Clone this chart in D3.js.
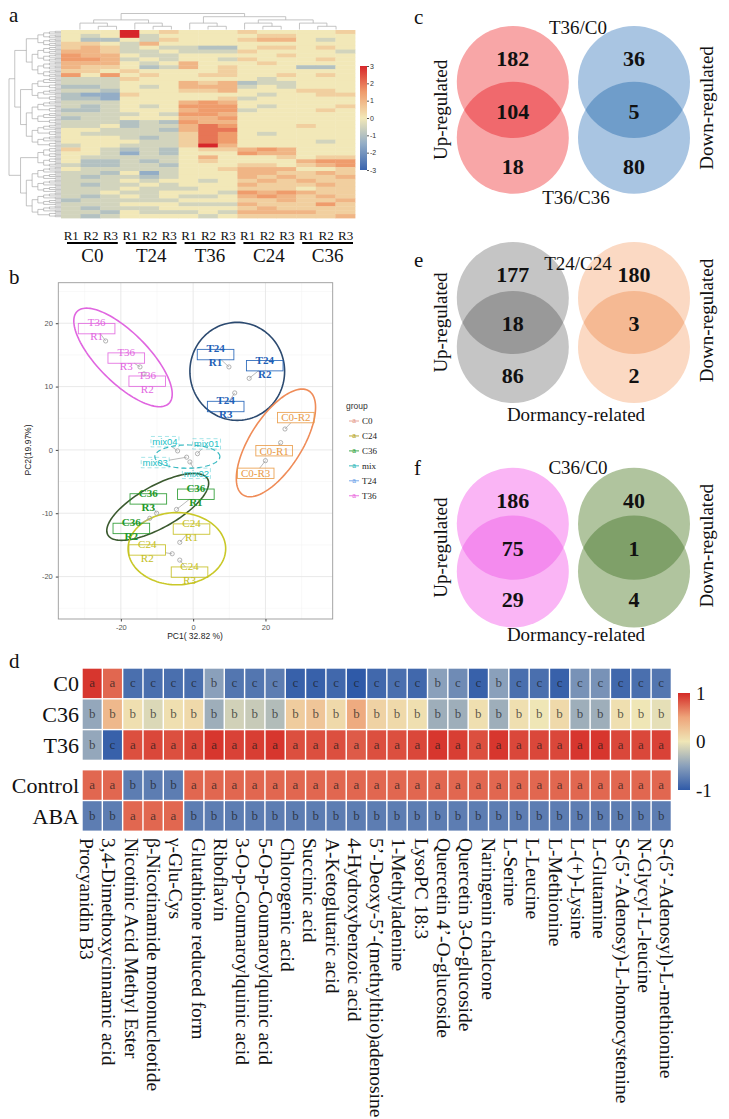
<!DOCTYPE html>
<html>
<head>
<meta charset="utf-8">
<script src="https://cdn.jsdelivr.net/npm/d3@7"></script>
<style>
  body { margin: 0; background: #fff; }
  svg { display: block; }
</style>
</head>
<body>
<svg id="fig" width="729" height="1119"></svg>
<script>
// ---------------- data ----------------

// panel a : clustered heatmap (row z-scores, coded 0..X)
var aGroups = ["C0", "T24", "T36", "C24", "C36"];
var aReps = ["R1", "R2", "R3"];
var aTicks = [3, 2, 1, 0, -1, -2, -3];
var aLevels = {"0": -3, "1": -2, "2": -1.5, "3": -1, "4": -0.5, "5": 0,
               "6": 0.5, "7": 1, "8": 1.5, "9": 2, "X": 3};
var aRows = [
  "555 X56 555 655 556", "545 X45 555 566 555", "533 546 555 677 545",
  "665 475 555 555 555", "676 454 433 566 565", "776 445 444 655 554",
  "877 544 555 556 555", "887 454 554 655 565", "777 545 755 565 555",
  "766 534 756 555 335", "665 655 556 555 555", "858 565 566 556 565",
  "444 655 555 545 555", "444 555 767 344 555", "334 545 777 454 555",
  "443 555 667 555 665", "322 655 555 545 566", "332 555 556 455 555",
  "444 555 787 555 555", "434 545 888 545 556", "334 555 788 455 565",
  "444 454 887 555 555", "344 555 778 555 555", "444 343 877 555 555",
  "445 344 798 555 655", "554 443 799 555 555", "544 444 698 545 555",
  "555 434 698 555 555", "555 544 698 555 545", "455 444 6X7 555 555",
  "654 343 566 787 555", "554 243 555 877 555", "544 444 575 556 566",
  "533 434 565 555 788", "433 443 555 665 678", "544 444 556 777 556",
  "443 524 555 776 676", "434 434 555 767 667", "444 545 545 676 766",
  "434 454 555 766 676", "444 544 455 666 566", "445 445 554 878 766",
  "434 545 445 787 676", "344 444 555 667 667", "444 555 444 766 686",
  "434 445 555 676 666", "443 544 454 777 766", "434 555 545 666 667"
];
var aColTree = [[[0, [1, 2]], [3, [4, 5]]], [[6, [7, 8]], [[9, [10, 11]], [12, [13, 14]]]]];
var aRowBlocks = [4, 8, 6, 12, 5, 13];

// panel b : PCA
var pcaGroups = ["C0", "C24", "C36", "mix", "T24", "T36"];
var samples = ["T36-R1", "T36-R2", "T36-R3", "T24-R1", "T24-R2", "T24-R3",
               "C0-R1", "C0-R2", "C0-R3", "mix01", "mix02", "mix03", "mix04",
               "C36-R1", "C36-R2", "C36-R3", "C24-R1", "C24-R2", "C24-R3"];
var sampleGroup = ["T36", "T36", "T36", "T24", "T24", "T24", "C0", "C0", "C0",
                   "mix", "mix", "mix", "mix", "C36", "C36", "C36", "C24", "C24", "C24"];
var pc1 = [-24.2, -13.6, -14.7, 9.9, 15.5, 11.5, 24.2, 25.4, 20.0,
           1.2, -0.9, -1.8, -4.3, -4.6, -12.0, -10.1, -3.7, -5.8, -3.7];
var pc2 = [17.2, 12.0, 13.1, 13.1, 11.3, 9.0, 1.15, 3.3, -1.7,
           -0.6, -1.9, -1.15, -0.16, -9.4, -10.8, -10.0, -14.6, -16.4, -17.4];
// repelled label centres (data units)
var labelPc1 = [-26.7, -12.7, -18.5, 6.2, 19.8, 9.0, 22.4, 28.4, 17.3,
                3.7, 0.9, -10.5, -7.8, 0.75, -17.1, -12.4, -0.45, -12.7, -1.0];
var labelPc2 = [19.15, 10.85, 14.5, 15.05, 13.3, 6.85, -0.13, 5.1, -3.7,
                0.95, -3.7, -2.0, 1.3, -7.0, -12.4, -7.74, -12.5, -15.8, -19.3];
// confidence ellipses: centre and two conjugate semi-axes (data units)
var ellGroup = ["T36", "T24", "C0", "mix", "C36", "C24"];
var ellCx = [-19.4, 12.2, 22.9, -1.6, -9.8, -4.5];
var ellCy = [14.6, 12.4, 1.1, -1.06, -9.0, -15.6];
var ellU = [[12.7, -7.26], [13.1, 0], [9.12, 8.21], [9.0, 0], [13.8, 4.42], [13.5, 0]];
var ellV = [[4.9, 2.8], [0, 7.74], [6.08, -2.21], [0, 1.84], [2.85, -2.89], [0, 5.7]];
var pcaXTicks = [-20, 0, 20];
var pcaYTicks = [-20, -10, 0, 10, 20];
var pcaXMinor = [-30, -10, 10, 30];
var pcaYMinor = [-25, -15, -5, 5, 15, 25];

// panels c, e, f : Venn diagrams
var vennLetters = ["c", "e", "f"];
var vennTitles = ["T36/C0", "T24/C24", "C36/C0"];
var vennBottom = ["T36/C36", "Dormancy-related", "Dormancy-related"];
var vennUp = [[182, 104, 18], [177, 18, 86], [186, 75, 29]];
var vennDown = [[36, 5, 80], [180, 3, 2], [40, 1, 4]];

// panel d : metabolite heatmap
var dRows = ["C0", "C36", "T36", "Control", "ABA"];
var dValues = [
  [0.95, 0.75, -0.85, -0.85, -0.85, -0.85, -0.5, -0.8, -0.8, -0.75, -0.95, -0.95, -0.9, -1.0, -0.9,
   -0.85, -0.9, -0.5, -0.65, -0.95, -0.5, -0.85, -0.85, -0.95, -0.6, -0.6, -0.9, -0.85, -0.8],
  [-0.45, 0.35, 0.05, -0.1, 0.05, 0.1, -0.4, -0.15, -0.2, -0.3, 0.2, 0.25, 0.1, 0.45, 0.15,
   0.1, 0.05, -0.4, -0.4, 0.05, -0.4, 0.05, 0, 0.1, -0.4, -0.4, 0.05, 0, -0.05],
  [-0.45, -0.95, 0.85, 0.88, 0.85, 0.88, 0.95, 0.9, 0.92, 0.95, 0.85, 0.85, 0.85, 0.8, 0.85,
   0.85, 0.88, 0.95, 0.92, 0.85, 0.95, 0.88, 0.88, 0.88, 0.95, 0.95, 0.88, 0.88, 0.9],
  [0.75, 0.75, -0.75, -0.75, -0.75, 0.75, 0.75, 0.75, 0.75, 0.75, 0.75, 0.75, 0.75, 0.75, 0.75,
   0.75, 0.75, 0.75, 0.75, 0.75, 0.75, 0.75, 0.75, 0.75, 0.75, 0.75, 0.75, 0.75, 0.75],
  [-0.75, -0.75, 0.75, 0.75, 0.75, -0.75, -0.75, -0.75, -0.75, -0.75, -0.75, -0.75, -0.75, -0.75, -0.75,
   -0.75, -0.75, -0.75, -0.75, -0.75, -0.75, -0.75, -0.75, -0.75, -0.75, -0.75, -0.75, -0.75, -0.75]
];
var dLetters = [
  "aaccccbccccccccccbccbcccccccc",
  "bbbbbbbbbbbbbbbbbbbbbbbbbbbbb",
  "bcaaaaaaaaaaaaaaaaaaaaaaaaaaa",
  "aabbbaaaaaaaaaaaaaaaaaaaaaaaa",
  "bbaaabbbbbbbbbbbbbbbbbbbbbbbb"
];
var dTicks = [1, 0, -1];
var dMetabolites = [
  "Procyanidin B3", "3,4-Dimethoxycinnamic acid", "Nicotinic Acid Methyl Ester",
  "\u03b2-Nicotinamide mononucleotide", "\u03b3-Glu-Cys", "Glutathione reduced form",
  "Riboflavin", "3-O-p-Coumaroylquinic acid", "5-O-p-Coumaroylquinic acid",
  "Chlorogenic acid", "Succinic acid", "A-Ketoglutaric acid", "4-Hydroxybenzoic acid",
  "5\u2019-Deoxy-5\u2019-(methylthio)adenosine", "1-Methyladenine", "LysoPC 18:3",
  "Quercetin 4\u2019-O-glucoside", "Quercetin 3-O-glucoside", "Naringenin chalcone",
  "L-Serine", "L-Leucine", "L-Methionine", "L-(+)-Lysine", "L-Glutamine",
  "S-(5\u2019-Adenosy)-L-homocystenine", "N-Glycyl-L-leucine", "S-(5\u2019-Adenosyl)-L-methionine"
];

// ---------------- styles ----------------
var SERIF = '"Liberation Serif","Times New Roman",serif';
var SANS = '"Liberation Sans",Arial,sans-serif';
var pcaText = {C0: "#e99a45", C24: "#c4be1c", C36: "#23982a", mix: "#22bfc6", T24: "#1e5fb6", T36: "#e266df"};
var pcaEll = {C0: "#ef8c58", C24: "#c9c828", C36: "#3b5a2f", mix: "#3ab9c1", T24: "#2c4a70", T36: "#e066e0"};
var pcaKey = {C0: "#e49a8c", C24: "#b4a224", C36: "#2f9f3c", mix: "#2cb6b8", T24: "#6c9fe8", T36: "#ea66de"};
var vennFill = [
  {l: "#f8a6a7", lo: "#f0696d", r: "#a9c5e2", ro: "#6f9dca"},
  {l: "#c5c5c5", lo: "#999999", r: "#fbd9c3", ro: "#f5b993"},
  {l: "#fab5f5", lo: "#f48bee", r: "#b0c49e", ro: "#7fa069"}
];
var subLeaves = 3;   // dendrogram leaves drawn per heatmap row

var svg = d3.select("#fig");
svg.append("rect").attr("width", 729).attr("height", 1119).attr("fill", "#fff");
var defs = svg.append("defs");

function letter(t, x, y) {
  svg.append("text").attr("x", x).attr("y", y).text(t)
    .style("font-family", SERIF).style("font-size", "21px").attr("fill", "#111");
}

// draw an elbow dendrogram from a d3.cluster result
function elbow(g, root, pos) {
  root.descendants().forEach(function(n) {
    if (!n.children) return;
    var xs = n.children.map(function(c) { return c.x; });
    var a = pos(d3.min(xs), n.y), b = pos(d3.max(xs), n.y);
    g.append("line").attr("x1", a[0]).attr("y1", a[1]).attr("x2", b[0]).attr("y2", b[1]);
    n.children.forEach(function(c) {
      var p = pos(c.x, n.y), q = pos(c.x, c.y);
      g.append("line").attr("x1", p[0]).attr("y1", p[1]).attr("x2", q[0]).attr("y2", q[1]);
    });
  });
}

// ================= panel a =================
letter("a", 9, 22);
var aMatrix = aRows.map(function(r) {
  return r.replace(/ /g, "").split("").map(function(c) { return aLevels[c]; });
});
var aCols = [];
aGroups.forEach(function(g) { aReps.forEach(function(r) { aCols.push(g + "_" + r); }); });
var ax = d3.scaleBand().domain(aCols).range([61, 355]);
var ay = d3.scaleBand().domain(d3.range(aMatrix.length)).range([30, 218]);
var aColor = d3.scaleLinear().domain([-3, -1.5, 0, 1.5, 3])
  .range(["#3a64ae", "#93adc6", "#f2e8b8", "#ef9c6c", "#d7262a"]);

var aHeat = svg.append("g");
aMatrix.forEach(function(row, i) {
  row.forEach(function(v, j) {
    aHeat.append("rect")
      .attr("x", ax(aCols[j])).attr("y", ay(i))
      .attr("width", ax.bandwidth() + 0.4).attr("height", ay.bandwidth() + 0.4)
      .attr("fill", aColor(v));
  });
});

// column dendrogram
var colRoot = d3.hierarchy(aColTree, function(d) { return Array.isArray(d) ? d : null; });
d3.cluster().size([ax.range()[1] - ax.range()[0] - ax.bandwidth(), 16])
  .separation(function() { return 1; })(colRoot);
var colG = svg.append("g").attr("stroke", "#b5b5b5").attr("stroke-width", 0.8);
elbow(colG, colRoot, function(x, y) { return [61 + ax.bandwidth() / 2 + x, 13.5 + y]; });

// row dendrogram
function halve(ids) {
  if (ids.length === 1) return ids[0];
  var m = Math.ceil(ids.length / 2);
  return [halve(ids.slice(0, m)), halve(ids.slice(m))];
}
var blocks = [], start = 0;
aRowBlocks.forEach(function(n) {
  blocks.push(halve(d3.range(start * subLeaves, (start + n) * subLeaves)));
  start += n;
});
var rowTree = [[[blocks[0], blocks[1]], [blocks[2], blocks[3]]], [blocks[4], blocks[5]]];
var rowRoot = d3.hierarchy(rowTree, function(d) { return Array.isArray(d) ? d : null; });
var leafH = ay.bandwidth() / subLeaves;
d3.cluster().size([ay.range()[1] - ay.range()[0] - leafH, 52])
  .separation(function() { return 1; })(rowRoot);
var rowG = svg.append("g").attr("stroke", "#9c9c9c").attr("stroke-width", 0.6);
elbow(rowG, rowRoot, function(x, y) { return [9 + y, 30 + leafH / 2 + x]; });

// colour key
var aGrad = defs.append("linearGradient").attr("id", "aGrad")
  .attr("x1", 0).attr("y1", 0).attr("x2", 0).attr("y2", 1);
d3.range(0, 1.0001, 0.125).forEach(function(t) {
  aGrad.append("stop").attr("offset", t).attr("stop-color", aColor(3 - 6 * t));
});
var aKeyY = d3.scaleLinear().domain([-3, 3]).range([170, 66]);
svg.append("rect").attr("x", 360).attr("y", 66).attr("width", 7).attr("height", 104)
  .attr("fill", "url(#aGrad)");
var aKeyAxis = svg.append("g").attr("transform", "translate(367,0)")
  .call(d3.axisRight(aKeyY).tickValues(aTicks).tickSize(2).tickFormat(function(d) { return String(d); }));
aKeyAxis.select(".domain").remove();
aKeyAxis.selectAll("text").style("font-family", SANS).style("font-size", "7px").attr("fill", "#333").attr("dx", "-2");
aKeyAxis.selectAll("line").attr("stroke", "#555");

// sample labels
aCols.forEach(function(c, j) {
  svg.append("text").attr("x", ax(c) + ax.bandwidth() / 2 + 0.5).attr("y", 240)
    .attr("text-anchor", "middle").text(aReps[j % 3])
    .style("font-family", SERIF).style("font-size", "13px").attr("fill", "#111");
});
aGroups.forEach(function(g, k) {
  var x0 = ax(g + "_R1") + 6, x1 = ax(g + "_R3") + ax.bandwidth() - 2;
  svg.append("line").attr("x1", x0).attr("x2", x1).attr("y1", 243).attr("y2", 243)
    .attr("stroke", "#000").attr("stroke-width", 1.8);
  svg.append("text").attr("x", (x0 + x1) / 2).attr("y", 262).attr("text-anchor", "middle")
    .text(g).style("font-family", SERIF).style("font-size", "19px").attr("fill", "#111");
});

// ================= panel b =================
letter("b", 9, 284);
var px = d3.scaleLinear().domain([-37.3, 38.6]).range([58.3, 332.7]);
var py = d3.scaleLinear().domain([-26.7, 26.4]).range([619, 282.7]);
var pg = svg.append("g");
pcaXMinor.forEach(function(v) {
  pg.append("line").attr("x1", px(v)).attr("x2", px(v)).attr("y1", py.range()[1]).attr("y2", py.range()[0])
    .attr("stroke", "#f3f3f3").attr("stroke-width", 0.5);
});
pcaYMinor.forEach(function(v) {
  pg.append("line").attr("y1", py(v)).attr("y2", py(v)).attr("x1", px.range()[0]).attr("x2", px.range()[1])
    .attr("stroke", "#f3f3f3").attr("stroke-width", 0.5);
});
pcaXTicks.forEach(function(v) {
  pg.append("line").attr("x1", px(v)).attr("x2", px(v)).attr("y1", py.range()[1]).attr("y2", py.range()[0])
    .attr("stroke", "#e6e6e6").attr("stroke-width", 0.9);
});
pcaYTicks.forEach(function(v) {
  pg.append("line").attr("y1", py(v)).attr("y2", py(v)).attr("x1", px.range()[0]).attr("x2", px.range()[1])
    .attr("stroke", "#e6e6e6").attr("stroke-width", 0.9);
});
pg.append("rect").attr("x", px.range()[0]).attr("y", py.range()[1])
  .attr("width", px.range()[1] - px.range()[0]).attr("height", py.range()[0] - py.range()[1])
  .attr("fill", "none").attr("stroke", "#9a9a9a").attr("stroke-width", 0.9);

var xAx = svg.append("g").attr("transform", "translate(0," + py.range()[0] + ")")
  .call(d3.axisBottom(px).tickValues(pcaXTicks).tickSize(2.5).tickFormat(function(d) { return String(d); }));
var yAx = svg.append("g").attr("transform", "translate(" + px.range()[0] + ",0)")
  .call(d3.axisLeft(py).tickValues(pcaYTicks).tickSize(2.5).tickFormat(function(d) { return String(d); }));
[xAx, yAx].forEach(function(a) {
  a.select(".domain").remove();
  a.selectAll("line").attr("stroke", "#444");
  a.selectAll("text").style("font-family", SANS).style("font-size", "7.5px").attr("fill", "#555");
});
svg.append("text").attr("x", 195).attr("y", 639).attr("text-anchor", "middle").text("PC1( 32.82 %)")
  .style("font-family", SANS).style("font-size", "8.5px").attr("fill", "#222");
svg.append("text").attr("transform", "translate(31,450) rotate(-90)").attr("text-anchor", "middle")
  .text("PC2(19.97%)").style("font-family", SANS).style("font-size", "8.5px").attr("fill", "#222");

// ellipses
var ellLine = d3.line().curve(d3.curveLinearClosed);
ellGroup.forEach(function(g, k) {
  var pts = d3.range(0, 2 * Math.PI, Math.PI / 60).map(function(t) {
    var c = Math.cos(t), s = Math.sin(t);
    return [px(ellCx[k] + ellU[k][0] * c + ellV[k][0] * s), py(ellCy[k] + ellU[k][1] * c + ellV[k][1] * s)];
  });
  svg.append("path").attr("d", ellLine(pts)).attr("fill", "none")
    .attr("stroke", pcaEll[g]).attr("stroke-width", g === "mix" ? 1.2 : 1.6)
    .attr("stroke-dasharray", g === "mix" ? "5,3" : null);
});

// labels, segments, points
samples.forEach(function(name, i) {
  var g = sampleGroup[i];
  var lx = px(labelPc1[i]), ly = py(labelPc2[i]);
  var sx = px(pc1[i]), sy = py(pc2[i]);
  var two = (g !== "mix" && g !== "C0");
  var hw = g === "mix" ? 14 : 18.3, hh = 5.2;
  var dx = sx - lx, dy = sy - ly;
  if (Math.abs(dx) > hw || Math.abs(dy) > hh) {
    var t = Math.min(Math.abs(dx) > 0 ? hw / Math.abs(dx) : 1e9, Math.abs(dy) > 0 ? hh / Math.abs(dy) : 1e9);
    svg.append("line").attr("x1", lx + dx * t).attr("y1", ly + dy * t).attr("x2", sx).attr("y2", sy)
      .attr("stroke", "#a8a8a8").attr("stroke-width", 0.8);
  }
  svg.append("circle").attr("cx", sx).attr("cy", sy).attr("r", 2.1)
    .attr("fill", "none").attr("stroke", "#a0a0a0").attr("stroke-width", 0.8);
  svg.append("rect").attr("x", lx - hw).attr("y", ly - hh).attr("width", 2 * hw).attr("height", 2 * hh)
    .attr("fill", "none").attr("stroke", pcaText[g]).attr("stroke-width", 0.9)
    .attr("stroke-opacity", g === "mix" ? 0.45 : 0.9)
    .attr("stroke-dasharray", g === "mix" ? "4,3" : null);
  var weight = (g === "T24" || g === "C36") ? "bold" : "normal";
  if (two) {
    var parts = name.split("-");
    svg.append("text").attr("x", lx).attr("y", ly - 6).attr("dy", "0.35em").attr("text-anchor", "middle")
      .text(parts[0]).style("font-family", SERIF).style("font-size", "11px").style("font-weight", weight)
      .attr("fill", pcaText[g]);
    svg.append("text").attr("x", lx).attr("y", ly + 8).attr("dy", "0.35em").attr("text-anchor", "middle")
      .text(parts[1]).style("font-family", SERIF).style("font-size", "11px").style("font-weight", weight)
      .attr("fill", pcaText[g]);
  } else {
    svg.append("text").attr("x", lx).attr("y", ly).attr("dy", "0.35em").attr("text-anchor", "middle")
      .text(name).style("font-family", g === "mix" ? SANS : SERIF)
      .style("font-size", g === "mix" ? "9.5px" : "11px").attr("fill", pcaText[g]);
  }
});

// legend
svg.append("text").attr("x", 346).attr("y", 409).text("group")
  .style("font-family", SANS).style("font-size", "8.5px").attr("fill", "#333");
pcaGroups.forEach(function(g, i) {
  var y = 421 + i * 14.95;
  svg.append("line").attr("x1", 349).attr("x2", 359).attr("y1", y).attr("y2", y)
    .attr("stroke", pcaKey[g]).attr("stroke-width", 0.9);
  svg.append("text").attr("x", 354).attr("y", y).attr("dy", "0.33em").attr("text-anchor", "middle")
    .text("a").style("font-family", SANS).style("font-size", "6.5px").attr("fill", pcaKey[g]);
  svg.append("text").attr("x", 362).attr("y", y).attr("dy", "0.35em").text(g)
    .style("font-family", SERIF).style("font-size", "9px").attr("fill", "#222");
});

// ================= panels c, e, f =================
var vennX = [512.8, 634], vennR = 56;
var vennTopY = [82, 298, 523.8], vennBotY = [137.8, 347, 571.5];
var vennLetterY = [24, 267, 475], vennTitleY = [27, 263, 467], vennBottomY = [197, 414, 634];

vennTitles.forEach(function(title, k) {
  var g = svg.append("g");
  var y1 = vennTopY[k], y2 = vennBotY[k];
  [0, 1].forEach(function(side) {
    var cx = vennX[side];
    var single = side === 0 ? vennFill[k].l : vennFill[k].r;
    var over = side === 0 ? vennFill[k].lo : vennFill[k].ro;
    var id = "clip" + k + "_" + side;
    defs.append("clipPath").attr("id", id).append("circle").attr("cx", cx).attr("cy", y1).attr("r", vennR);
    g.append("circle").attr("cx", cx).attr("cy", y1).attr("r", vennR).attr("fill", single);
    g.append("circle").attr("cx", cx).attr("cy", y2).attr("r", vennR).attr("fill", single);
    g.append("circle").attr("cx", cx).attr("cy", y2).attr("r", vennR).attr("fill", over)
      .attr("clip-path", "url(#" + id + ")");
    var counts = side === 0 ? vennUp[k] : vennDown[k];
    var ys = [y1 - 24, (y1 + y2) / 2 + 1, y2 + 28];
    counts.forEach(function(n, m) {
      g.append("text").attr("x", cx).attr("y", ys[m]).attr("dy", "0.35em").attr("text-anchor", "middle")
        .text(n).style("font-family", SERIF).style("font-size", "22px").style("font-weight", "bold")
        .attr("fill", "#111");
    });
  });
  letter(vennLetters[k], 414, vennLetterY[k]);
  var mid = (y1 + y2) / 2;
  g.append("text").attr("x", 578).attr("y", vennTitleY[k]).attr("dy", "0.35em").attr("text-anchor", "middle")
    .text(title).style("font-family", SERIF).style("font-size", "19px").attr("fill", "#111");
  g.append("text").attr("x", 576).attr("y", vennBottomY[k]).attr("dy", "0.35em").attr("text-anchor", "middle")
    .text(vennBottom[k]).style("font-family", SERIF).style("font-size", "19px").attr("fill", "#111");
  g.append("text").attr("transform", "translate(440," + mid + ") rotate(-90)").attr("dy", "0.35em")
    .attr("text-anchor", "middle").text("Up-regulated")
    .style("font-family", SERIF).style("font-size", "19px").attr("fill", "#111");
  g.append("text").attr("transform", "translate(706," + (mid - 2) + ") rotate(-90)").attr("dy", "0.35em")
    .attr("text-anchor", "middle").text("Down-regulated")
    .style("font-family", SERIF).style("font-size", "19px").attr("fill", "#111");
});

// ================= panel d =================
letter("d", 9, 668);
var dx = d3.scaleBand().domain(d3.range(dValues[0].length)).range([82.7, 670.7]).paddingInner(0.07);
var dRowH = 30.8;
var dy = function(i) { return 668 + i * dRowH + (i >= 3 ? 9.3 : 0); };
var dColor = d3.scaleLinear().domain([-1, -0.5, 0, 0.5, 1])
  .range(["#2f5aa8", "#8aa0bb", "#efe6b6", "#eea47a", "#d42a26"]);

dRows.forEach(function(r, i) {
  dValues[i].forEach(function(v, j) {
    svg.append("rect").attr("x", dx(j)).attr("y", dy(i) + 0.7)
      .attr("width", dx.bandwidth()).attr("height", dRowH - 1.4).attr("fill", dColor(v));
    svg.append("text").attr("x", dx(j) + dx.bandwidth() / 2).attr("y", dy(i) + dRowH / 2)
      .attr("dy", "0.3em").attr("text-anchor", "middle").text(dLetters[i][j])
      .style("font-family", SERIF).style("font-size", "13px").attr("fill", "#1a1a1a").attr("fill-opacity", 0.72);
  });
  svg.append("text").attr("x", 79).attr("y", dy(i) + dRowH / 2).attr("dy", "0.35em")
    .attr("text-anchor", "end").text(r)
    .style("font-family", SERIF).style("font-size", "22px").attr("fill", "#111");
});

var dGrad = defs.append("linearGradient").attr("id", "dGrad")
  .attr("x1", 0).attr("y1", 0).attr("x2", 0).attr("y2", 1);
d3.range(0, 1.0001, 0.125).forEach(function(t) {
  dGrad.append("stop").attr("offset", t).attr("stop-color", dColor(1 - 2 * t));
});
var dKeyY = d3.scaleLinear().domain([-1, 1]).range([790, 693]);
svg.append("rect").attr("x", 678).attr("y", 693).attr("width", 12).attr("height", 97).attr("fill", "url(#dGrad)");
dTicks.forEach(function(t) {
  svg.append("text").attr("x", 696).attr("y", dKeyY(t)).attr("dy", "0.35em")
    .text(t === -1 ? "-1" : String(t))
    .style("font-family", SERIF).style("font-size", "19px").attr("fill", "#111");
});

var dLab = d3.scalePoint().domain(dMetabolites).range([87, 667]);
dMetabolites.forEach(function(m) {
  svg.append("text").attr("transform", "translate(" + dLab(m) + ",838) rotate(90)")
    .attr("dy", "0.35em").text(m)
    .style("font-family", SERIF).style("font-size", "19.5px").attr("fill", "#111");
});
</script>
</body>
</html>
